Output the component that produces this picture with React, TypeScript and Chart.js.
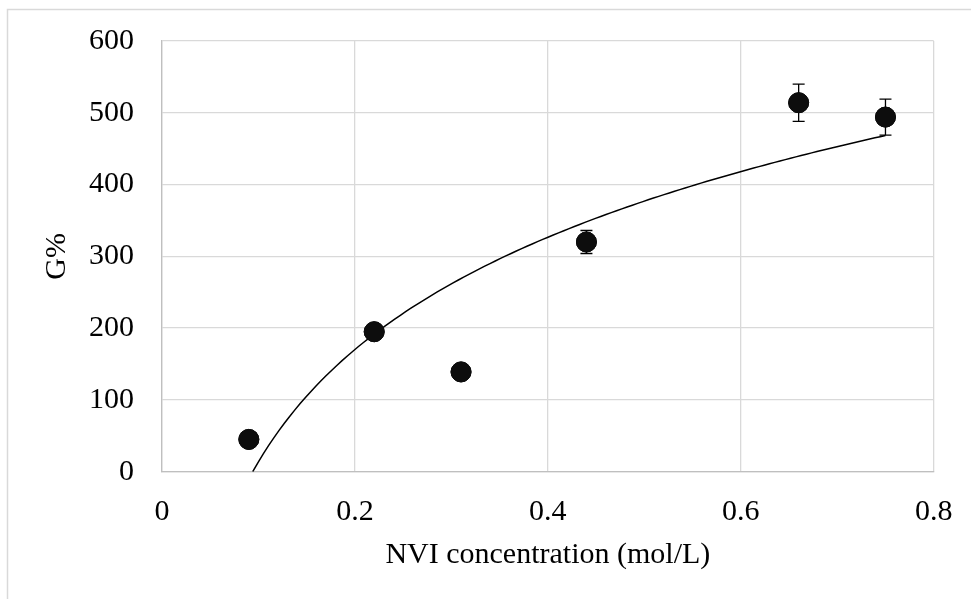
import React, { useEffect, useRef } from "react";
import { Chart, registerables } from "chart.js";

Chart.register(...registerables);

const concentrations = [0.09, 0.22, 0.31, 0.44, 0.66, 0.75];
const gPercent = [45, 195, 139, 320, 514, 494];
const gError = [6, 7, 7, 16, 26, 25];
const xTicks = [0, 0.2, 0.4, 0.6, 0.8];
const yTicks = [0, 100, 200, 300, 400, 500, 600];

const FONT = "'Liberation Serif', 'Times New Roman', serif";

// Least-squares logarithmic trendline y = a ln(x) + b, fitted from the data
function logFit(xs: number[], ys: number[]) {
  const lx = xs.map((v) => Math.log(v));
  const n = xs.length;
  const mx = lx.reduce((s, v) => s + v, 0) / n;
  const my = ys.reduce((s, v) => s + v, 0) / n;
  let sxy = 0;
  let sxx = 0;
  for (let i = 0; i < n; i++) {
    sxy += (lx[i] - mx) * (ys[i] - my);
    sxx += (lx[i] - mx) * (lx[i] - mx);
  }
  const a = sxy / sxx;
  return { a, b: my - a * mx };
}

function trendPoints() {
  const { a, b } = logFit(concentrations, gPercent);
  const x0 = Math.max(concentrations[0], Math.exp(-b / a));
  const x1 = concentrations[concentrations.length - 1];
  const pts: { x: number; y: number }[] = [];
  const steps = 120;
  for (let i = 0; i <= steps; i++) {
    const x = x0 + ((x1 - x0) * i) / steps;
    pts.push({ x, y: a * Math.log(x) + b });
  }
  return pts;
}

const framePlugin = {
  id: "frame",
  beforeDraw(chart: any) {
    const ctx = chart.ctx;
    ctx.save();
    ctx.fillStyle = "#ffffff";
    ctx.fillRect(0, 0, chart.width, chart.height);
    ctx.strokeStyle = "#d9d9d9";
    ctx.lineWidth = 1.5;
    ctx.beginPath();
    ctx.moveTo(7.5, chart.height + 2);
    ctx.lineTo(7.5, 9.5);
    ctx.lineTo(chart.width + 2, 9.5);
    ctx.stroke();
    ctx.restore();
  },
};

const errorBarPlugin = {
  id: "errorBars",
  afterDatasetsDraw(chart: any) {
    const ctx = chart.ctx;
    const xs = chart.scales.x;
    const ys = chart.scales.y;
    ctx.save();
    ctx.strokeStyle = "#000000";
    ctx.lineWidth = 1.3;
    concentrations.forEach((c, i) => {
      const px = xs.getPixelForValue(c);
      const top = ys.getPixelForValue(gPercent[i] + gError[i]);
      const bot = ys.getPixelForValue(gPercent[i] - gError[i]);
      ctx.beginPath();
      ctx.moveTo(px, top);
      ctx.lineTo(px, bot);
      ctx.moveTo(px - 6, top);
      ctx.lineTo(px + 6, top);
      ctx.moveTo(px - 6, bot);
      ctx.lineTo(px + 6, bot);
      ctx.stroke();
    });
    // redraw markers on top of bars
    const meta = chart.getDatasetMeta(0);
    meta.data.forEach((el: any) => el.draw(ctx));
    ctx.restore();
  },
};

export default function App() {
  const ref = useRef<HTMLCanvasElement | null>(null);

  useEffect(() => {
    if (!ref.current) return;
    const chart = new Chart(ref.current, {
      type: "scatter",
      data: {
        datasets: [
          {
            label: "G%",
            data: concentrations.map((x, i) => ({ x, y: gPercent[i] })),
            pointRadius: 10,
            pointHoverRadius: 10,
            backgroundColor: "#0d0d0d",
            borderColor: "#0d0d0d",
            borderWidth: 1,
            order: 1,
          },
          {
            label: "Log trend",
            data: trendPoints(),
            showLine: true,
            pointRadius: 0,
            borderColor: "#000000",
            borderWidth: 1.5,
            tension: 0,
            order: 2,
          } as any,
        ],
      },
      options: {
        responsive: false,
        animation: false,
        devicePixelRatio: 1,
        layout: { padding: { left: 0, top: 41, right: 37.3, bottom: 0 } },
        plugins: {
          legend: { display: false },
          tooltip: { enabled: false },
        },
        scales: {
          x: {
            type: "linear",
            min: 0,
            max: 0.8,
            afterBuildTicks: (scale: any) => {
              scale.ticks = xTicks.map((v) => ({ value: v }));
            },
            afterFit: (scale: any) => {
              scale.height = 127.3;
              scale.paddingLeft = 0;
              scale.paddingRight = 0;
            },
            ticks: {
              color: "#000000",
              font: { family: FONT, size: 30 },
              padding: 22,
              callback: (v: any) => String(Math.round(Number(v) * 10) / 10),
            },
            grid: { color: "#d9d9d9", lineWidth: 1.3, drawTicks: false },
            border: { color: "#bfbfbf", width: 1.3 },
            title: {
              display: true,
              text: "NVI concentration (mol/L)",
              color: "#000000",
              font: { family: FONT, size: 30 },
              padding: { top: 0, bottom: 26 },
            },
          },
          y: {
            type: "linear",
            min: 0,
            max: 600,
            afterBuildTicks: (scale: any) => {
              scale.ticks = yTicks.map((v) => ({ value: v }));
            },
            afterFit: (scale: any) => {
              scale.width = 162;
              scale.paddingTop = 0;
              scale.paddingBottom = 0;
            },
            ticks: {
              color: "#000000",
              font: { family: FONT, size: 30 },
              padding: 28,
            },
            grid: { color: "#d9d9d9", lineWidth: 1.3, drawTicks: false },
            border: { color: "#bfbfbf", width: 1.3 },
            title: {
              display: true,
              text: "G%",
              color: "#000000",
              font: { family: FONT, size: 30 },
              padding: { top: 39, bottom: 0 },
            },
          },
        },
      },
      plugins: [framePlugin, errorBarPlugin],
    });
    return () => chart.destroy();
  }, []);

  return (
    <div style={{ position: "fixed", left: 0, top: 0, width: 971, height: 599, background: "#fff" }}>
      <canvas ref={ref} width={971} height={599} style={{ display: "block", width: 971, height: 599 }} />
    </div>
  );
}
